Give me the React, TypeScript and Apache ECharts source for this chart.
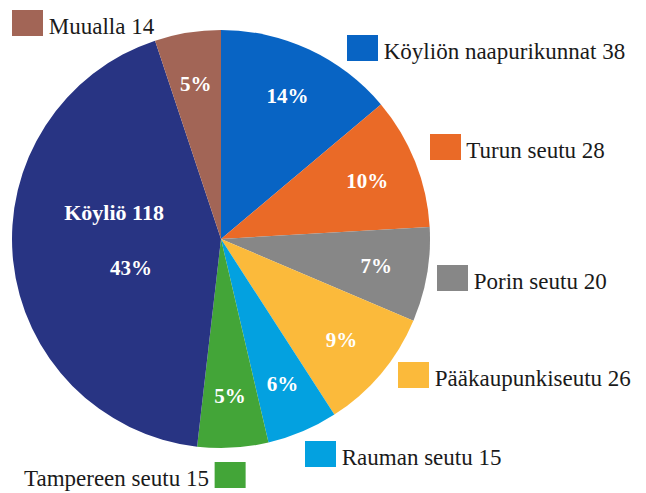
import React, { useEffect, useRef } from 'react';
import * as echarts from 'echarts';

const categories = ['Köyliön naapurikunnat', 'Turun seutu', 'Porin seutu', 'Pääkaupunkiseutu', 'Rauman seutu', 'Tampereen seutu', 'Köyliö', 'Muualla'];
const values = [38, 28, 20, 26, 15, 15, 118, 14];
const percentLabels = ['14%', '10%', '7%', '9%', '6%', '5%', '43%', '5%'];
const colors = ['#0864c4', '#ea6a27', '#878787', '#fbba3b', '#03a1e0', '#43a538', '#283483', '#a26556'];

// layout: left x of each outside label and its vertical centre
const legendPos: (number[] | null)[] = [[347, 48], [430, 147], [437, 278], [398, 375], [305, 454], [24, 475], null, [12, 23]];

const FONT = 'Liberation Serif';
const MAIN = 6;

export default function App() {
  const ref = useRef<HTMLDivElement>(null);
  useEffect(() => {
    document.body.style.margin = '0';
    const chart = echarts.init(ref.current!, undefined, { renderer: 'svg' });
    const rich: any = {
      t: { fontSize: 23, fontFamily: FONT, color: '#1a1a1a', padding: [6, 0, 0, 0] },
    };
    colors.forEach((c, i) => {
      rich['s' + i] = { width: 31, height: 26, backgroundColor: c, fontSize: 10, fontFamily: FONT };
    });
    const data = categories.map((name, i) => ({ name, value: values[i], itemStyle: { color: colors[i] } }));
    const plain = categories.map((name, i) => ({ name, value: values[i] }));
    const center = [221, 239];
    const R = 209;
    chart.setOption({
      animation: false,
      series: [
        {
          type: 'pie',
          center,
          radius: [0, R],
          startAngle: 90,
          clockwise: true,
          avoidLabelOverlap: false,
          itemStyle: { borderWidth: 0 },
          data,
          label: {
            position: 'outside',
            fontFamily: FONT,
            fontSize: 23,
            rich,
            formatter: (p: any) =>
              p.dataIndex === MAIN
                ? ''
                : p.dataIndex === 5
                ? `{t|${p.name} ${p.value} }{s${p.dataIndex}| }`
                : `{s${p.dataIndex}| }{t| ${p.name} ${p.value}}`,
          },
          labelLine: { show: false },
          labelLayout: (p: any) => {
            const pos = legendPos[p.dataIndex];
            if (!pos) return {};
            return { x: pos[0], y: pos[1], align: 'left', verticalAlign: 'middle' };
          },
        },
        {
          type: 'pie',
          center,
          radius: [100, R],
          startAngle: 90,
          avoidLabelOverlap: false,
          itemStyle: { color: 'transparent', borderWidth: 0 },
          data: plain,
          label: {
            position: 'inside',
            formatter: (p: any) => (p.dataIndex === MAIN ? '' : percentLabels[p.dataIndex]),
            color: '#ffffff',
            fontFamily: FONT,
            fontWeight: 'bold',
            fontSize: 21,
          },
          labelLine: { show: false },
        },
        {
          type: 'pie',
          center,
          radius: [0, R],
          startAngle: 90,
          avoidLabelOverlap: false,
          itemStyle: { color: 'transparent', borderWidth: 0 },
          data: plain,
          label: {
            position: 'inside',
            fontFamily: FONT,
            fontWeight: 'bold',
            fontSize: 22,
            color: '#fff',
            padding: [0, 0, 20, 0],
            formatter: (p: any) =>
              p.dataIndex === MAIN ? `{a|${p.name} ${p.value}}\n{b|${percentLabels[p.dataIndex]}}` : '',
            rich: {
              a: { color: '#fff', fontFamily: FONT, fontWeight: 'bold', fontSize: 22, lineHeight: 56 },
              b: { color: '#fff', fontFamily: FONT, fontWeight: 'bold', fontSize: 21, lineHeight: 56, padding: [0, 0, 0, 34] },
            },
          },
          labelLine: { show: false },
        },
      ],
    });
    return () => chart.dispose();
  }, []);
  return <div ref={ref} style={{ width: 646, height: 493, position: 'absolute', left: 0, top: 0, background: '#fff' }} />;
}
